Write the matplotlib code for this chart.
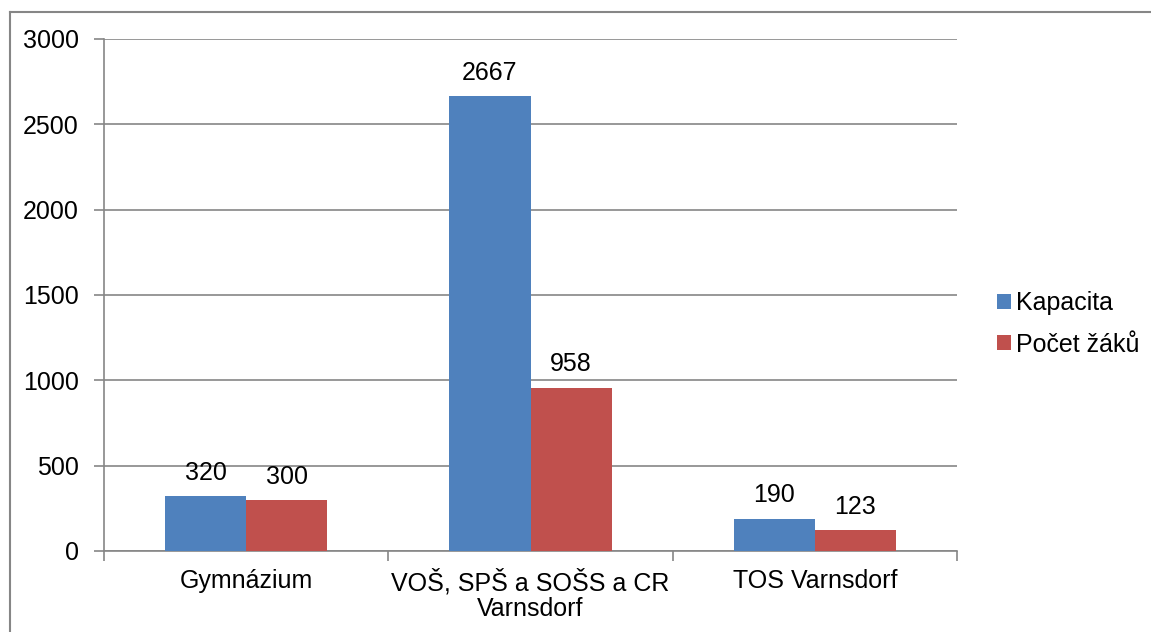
import matplotlib
matplotlib.use("Agg")
import matplotlib.pyplot as plt
import numpy as np
from matplotlib.lines import Line2D

categories = ["Gymnázium", "VOŠ, SPŠ a SOŠS a CR\nVarnsdorf", "TOS Varnsdorf"]
series_names = ["Kapacita", "Počet žáků"]
kapacita = [320, 2667, 190]
pocet = [300, 958, 123]
yticks = [0, 500, 1000, 1500, 2000, 2500, 3000]

plt.rcParams['font.family'] = ['Liberation Sans', 'DejaVu Sans']
FS = 18
GRID = '#868686'

fig = plt.figure(figsize=(11.51, 6.32), dpi=100)
ax = fig.add_axes([104/1151, 81/632, (957-104)/1151, (551-39)/632])

x = np.arange(len(categories))
w = 0.2857
colors = ['#4F81BD', '#C0504D']
for i, (vals, name) in enumerate(zip([kapacita, pocet], series_names)):
    bars = ax.bar(x + (i - 0.5) * w, vals, width=w, color=colors[i], label=name,
                  zorder=3, edgecolor='none')
    for b, v in zip(bars, vals):
        ax.annotate(str(v), (b.get_x() + b.get_width() / 2, v), xytext=(0, 8),
                    textcoords='offset points', ha='center', va='bottom', fontsize=FS)

ax.set_xlim(-0.5, len(categories) - 0.5)
ax.set_ylim(0, 3000)
ax.set_yticks(yticks)
ax.set_yticklabels([str(t) for t in yticks], fontsize=FS)
ax.yaxis.grid(True, color=GRID, linewidth=1.2, zorder=0)
ax.set_axisbelow(True)

# category labels and boundary ticks
ax.set_xticks(np.arange(-0.5, len(categories) + 0.5, 1.0))
ax.set_xticklabels([''] * (len(categories) + 1))
ax.set_xticks(x, minor=True)
ax.set_xticklabels(categories, minor=True, fontsize=FS, linespacing=1.1)
ax.tick_params(axis='x', which='major', length=7, width=1.2, color=GRID)
ax.tick_params(axis='x', which='minor', length=0, pad=13)
ax.tick_params(axis='y', length=7, width=1.2, color=GRID, pad=11)

for s in ['top', 'right']:
    ax.spines[s].set_visible(False)
for s in ['left', 'bottom']:
    ax.spines[s].set_color(GRID)
    ax.spines[s].set_linewidth(1.2)

leg = ax.legend(loc='center left', bbox_to_anchor=(997/1151, 1 - 324/632),
                bbox_transform=fig.transFigure, frameon=False, fontsize=FS,
                handlelength=0.55, handleheight=0.55, handletextpad=0.2,
                labelspacing=0.7, borderaxespad=0, borderpad=0)

# chart border
fig.add_artist(Line2D([10/1151, 10/1151], [0, 1 - 12/632], color=GRID, lw=1.5,
                      transform=fig.transFigure))
fig.add_artist(Line2D([10/1151, 1], [1 - 12/632, 1 - 12/632], color=GRID, lw=1.5,
                      transform=fig.transFigure))

fig.savefig("out.png", dpi=100)
